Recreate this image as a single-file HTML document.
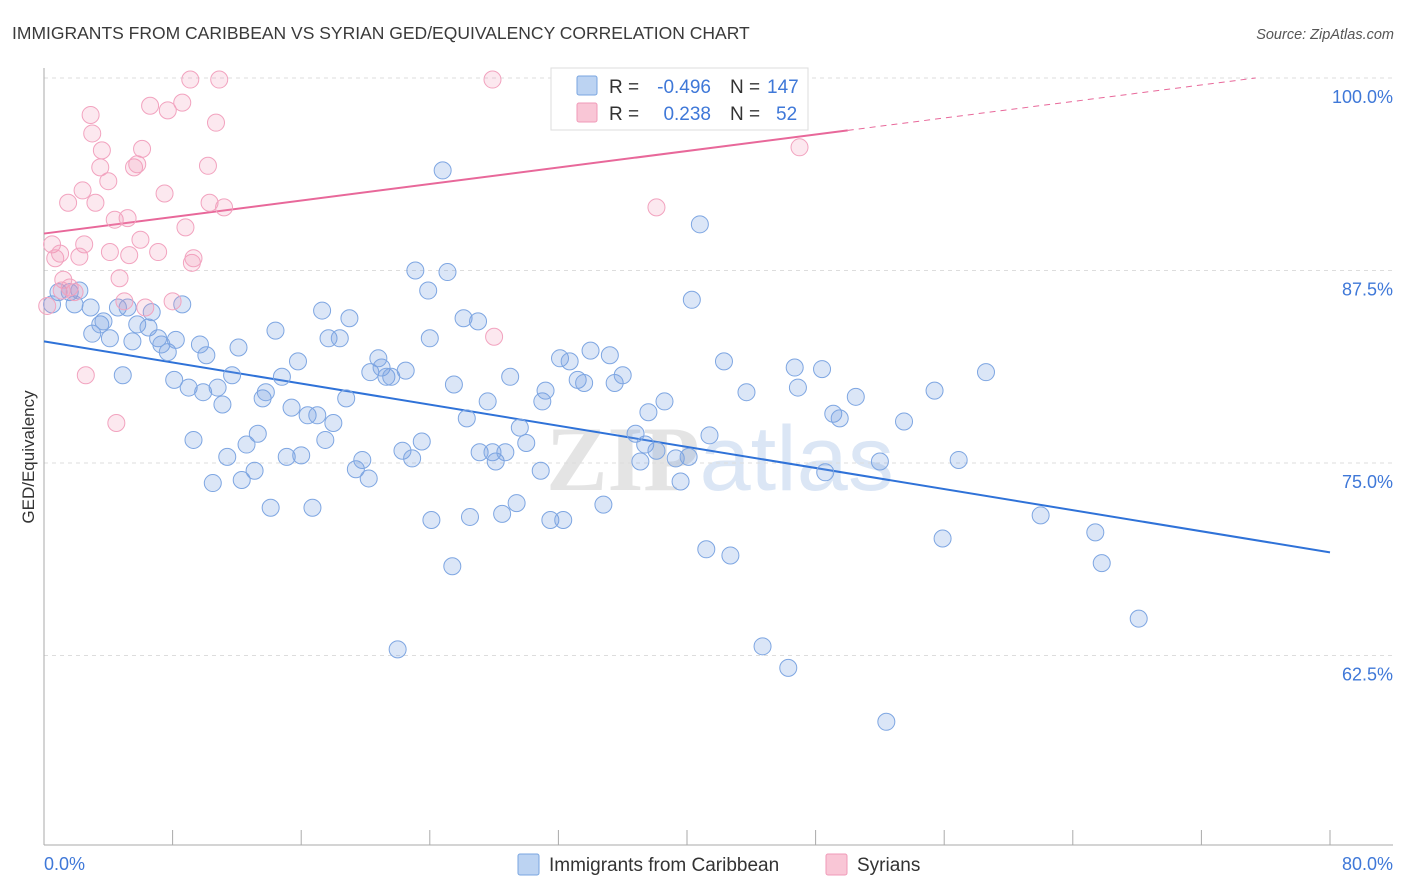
<!DOCTYPE html>
<html><head><meta charset="utf-8"><style>
body{margin:0;background:#fff;font-family:"Liberation Sans",sans-serif;}
svg{display:block}
</style></head><body>
<svg id="chart" width="1406" height="892">
<text x="12" y="39" font-size="17.5" fill="#3a3a3a">IMMIGRANTS FROM CARIBBEAN VS SYRIAN GED/EQUIVALENCY CORRELATION CHART</text>
<text x="1394" y="39" font-size="14.5" fill="#555" font-style="italic" text-anchor="end">Source: ZipAtlas.com</text>
<text x="720" y="490" font-size="92" fill="#e4e4e4" text-anchor="middle" font-family="Liberation Serif,serif" font-weight="bold">ZIP<tspan fill="#dbe6f5" font-family="Liberation Sans,sans-serif" font-weight="normal">atlas</tspan></text>
<g id="grid"></g><g id="axes"></g><g id="lines"></g><g id="points"></g>
<text transform="translate(34,457) rotate(-90)" font-size="17" fill="#333" text-anchor="middle">GED/Equivalency</text>
<g>
<rect x="551" y="68" width="257" height="62" fill="#fff" stroke="#ddd"/>
<rect x="577" y="76" width="20" height="19" fill="#bcd3f2" stroke="#7aa6e0" rx="2"/>
<rect x="577" y="103" width="20" height="19" fill="#f9c6d6" stroke="#f09ab8" rx="2"/>
<text x="609" y="93" font-size="19" fill="#333">R =</text>
<text x="711" y="93" font-size="19" fill="#3f78d8" text-anchor="end">-0.496</text>
<text x="730" y="93" font-size="19" fill="#333">N =</text>
<text x="767" y="93" font-size="19" fill="#3f78d8">147</text>
<text x="609" y="120" font-size="19" fill="#333">R =</text>
<text x="711" y="120" font-size="19" fill="#3f78d8" text-anchor="end">0.238</text>
<text x="730" y="120" font-size="19" fill="#333">N =</text>
<text x="776" y="120" font-size="19" fill="#3f78d8">52</text>
</g>
<g>
<rect x="518" y="854" width="21" height="21" fill="#bcd3f2" stroke="#7aa6e0" rx="2"/>
<text x="549" y="871" font-size="19" fill="#333">Immigrants from Caribbean</text>
<rect x="826" y="854" width="21" height="21" fill="#f9c6d6" stroke="#f09ab8" rx="2"/>
<text x="857" y="871" font-size="19" fill="#333">Syrians</text>
</g>
</svg>
<script>
const xTicks=[0,10,20,30,40,50,60,70,80];
const yTicks=[62.5,75,87.5,100];
const yTickLabels=["62.5%","75.0%","87.5%","100.0%"];
const blueX=[0.5,0.9,1.6,2.2,1.9,2.9,3.0,3.5,4.1,3.7,4.6,5.2,4.9,5.5,5.8,6.5,6.7,7.1,7.3,7.7,8.2,8.6,8.1,9.0,9.3,9.7,10.1,9.9,10.8,11.1,10.5,11.4,11.7,12.1,12.3,12.6,13.1,13.3,13.6,13.8,14.1,14.4,14.8,15.1,15.4,15.8,16.0,16.4,16.7,17.0,17.3,17.7,17.5,18.0,18.4,18.8,19.0,19.4,19.8,20.2,20.3,20.8,21.0,21.3,21.6,22.0,22.3,22.5,22.9,23.1,23.5,23.9,24.0,24.1,25.1,25.4,25.5,26.1,26.3,26.5,27.0,27.1,27.6,27.9,28.1,28.5,28.7,29.0,29.4,29.6,30.0,30.9,31.0,31.2,31.5,32.1,32.3,32.7,33.2,33.6,34.0,34.8,35.2,35.5,36.0,36.8,37.1,37.4,37.6,38.1,38.6,39.3,39.6,40.1,40.3,40.8,41.2,41.4,42.3,42.7,43.7,44.7,46.3,46.7,46.9,48.4,48.6,49.1,49.5,50.5,52.0,52.4,53.5,55.4,55.9,56.9,58.6,62.0,65.4,65.8,68.1,24.8];
const blueY=[85.3,86.1,86.1,86.2,85.3,85.1,83.4,84.0,83.1,84.2,85.1,85.1,80.7,82.9,84.0,83.8,84.8,83.1,82.7,82.2,83.0,85.3,80.4,79.9,76.5,82.7,82.0,79.6,79.9,78.8,73.7,75.4,80.7,82.5,73.9,76.2,74.5,76.9,79.2,79.6,72.1,83.6,80.6,75.4,78.6,81.6,75.5,78.1,72.1,78.1,84.9,83.1,76.5,77.6,83.1,79.2,84.4,74.6,75.2,74.0,80.9,81.8,81.2,80.6,80.6,62.9,75.8,81.0,75.3,87.5,76.4,86.2,83.1,71.3,87.4,68.3,80.1,84.4,77.9,71.5,84.2,75.7,79.0,75.7,75.1,71.7,75.7,80.6,72.4,77.3,76.3,74.5,79.0,79.7,71.3,81.8,71.3,81.6,80.4,80.2,82.3,72.3,82.0,80.2,80.7,76.9,75.1,76.2,78.3,75.8,79.0,75.3,73.8,75.4,85.6,90.5,69.4,76.8,81.6,69.0,79.6,63.1,61.7,81.2,79.9,81.1,74.4,78.2,77.9,79.3,75.1,58.2,77.7,79.7,70.1,75.2,80.9,71.6,70.5,68.5,64.9,94.0];
const pinkX=[0.5,0.7,1.0,1.2,1.6,1.9,2.6,1.5,2.4,2.5,2.2,2.9,3.0,3.5,3.6,3.2,4.0,4.1,4.4,4.5,4.7,5.0,5.2,5.3,5.6,5.8,6.0,6.1,6.3,6.6,7.1,7.5,7.7,8.0,8.6,8.8,9.1,9.2,9.3,10.2,10.3,10.7,10.9,11.2,27.9,28.0,38.1,47.0,0.2,1.1];
const pinkY=[89.2,88.3,88.6,86.9,86.4,86.1,80.7,91.9,92.7,89.2,88.4,97.6,96.4,94.2,95.3,91.9,93.3,88.7,90.8,77.6,87.0,85.5,90.9,88.5,94.2,94.4,89.5,95.4,85.1,98.2,88.7,92.5,97.9,85.5,98.4,90.3,99.9,88.0,88.3,94.3,91.9,97.1,99.9,91.6,99.9,83.2,91.6,95.5,85.2,86.2];
const blueTrend=[82.9,69.2];
const pinkTrend=[89.9,96.6,50];
const X0=44,X1=1330,YT=78,YB=845,YMIN=50.2,YMAX=100;
const sx=v=>X0+(v/80)*(X1-X0);
const sy=v=>YT+(YMAX-v)/(YMAX-YMIN)*(YB-YT);
const NS="http://www.w3.org/2000/svg";
function mk(parent,tag,attrs){const e=document.createElementNS(NS,tag);for(const k in attrs)e.setAttribute(k,attrs[k]);document.getElementById(parent).appendChild(e);return e;}
yTicks.forEach((t,i)=>{
 const g=mk('grid','line',{x1:X0,x2:1393,y1:sy(t),y2:sy(t),stroke:'#ddd','stroke-dasharray':'4,4'});
 
 
 const tx=mk('grid','text',{x:1393,y:sy(t)+25,'font-size':18,fill:'#3f78d8','text-anchor':'end'});
 tx.textContent=yTickLabels[i];
 
 
});
const ax=mk('axes','line',{x1:X0,x2:1393,y1:YB,y2:YB,stroke:'#aaa'});


const ay=mk('axes','line',{x1:X0,x2:X0,y1:68,y2:YB,stroke:'#aaa'});


for(let v=0;v<=80;v+=8){
 const t=mk('axes','line',{x1:sx(v),x2:sx(v),y1:YB-15,y2:YB,stroke:'#aaa'});
 
 
}
const l0=mk('axes','text',{x:44,y:870,'font-size':18,fill:'#3f78d8'});l0.textContent=xTicks[0].toFixed(1)+'%';


const l1=mk('axes','text',{x:1393,y:870,'font-size':18,fill:'#3f78d8','text-anchor':'end'});l1.textContent=xTicks[xTicks.length-1].toFixed(1)+'%';


blueX.forEach((x,i)=>{
 const c=mk('points','circle',{cx:sx(x),cy:sy(blueY[i]),r:8.5,fill:'rgba(110,155,225,0.25)',stroke:'#7ea6e2','stroke-width':1});
 
 
});
pinkX.forEach((x,i)=>{
 const c=mk('points','circle',{cx:sx(x),cy:sy(pinkY[i]),r:8.5,fill:'rgba(240,150,180,0.22)',stroke:'#f2a3bf','stroke-width':1});
 
 
});
const bl=mk('lines','line',{x1:sx(0),y1:sy(blueTrend[0]),x2:sx(80),y2:sy(blueTrend[1]),stroke:'#2f72d8','stroke-width':2});


const slope=(pinkTrend[1]-pinkTrend[0])/pinkTrend[2];
const xEnd=(100-pinkTrend[0])/slope;
const pl=mk('lines','line',{x1:sx(0),y1:sy(pinkTrend[0]),x2:sx(pinkTrend[2]),y2:sy(pinkTrend[1]),stroke:'#e8689a','stroke-width':2});


const pd=mk('lines','line',{x1:sx(pinkTrend[2]),y1:sy(pinkTrend[1]),x2:sx(xEnd),y2:sy(100),stroke:'#e8689a','stroke-width':1,'stroke-dasharray':'6,5'});


</script>
</body></html>
